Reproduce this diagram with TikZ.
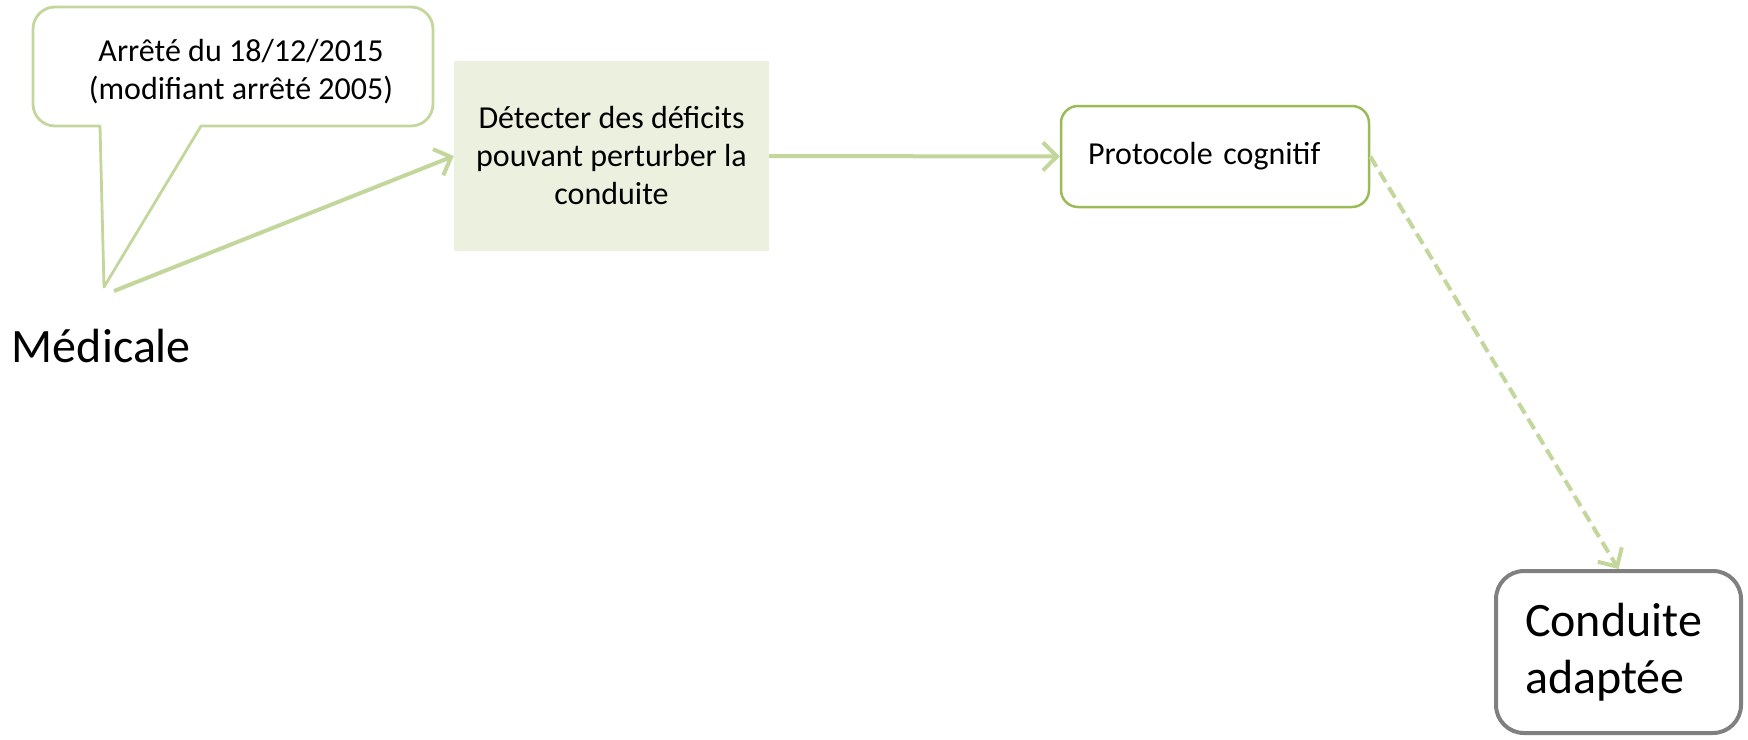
\documentclass[tikz,border=0pt]{standalone}
\usepackage{fontspec}
\setmainfont{Carlito}
\usetikzlibrary{arrows.meta}

\definecolor{lgreen}{RGB}{195,214,155}
\definecolor{mgreen}{RGB}{155,187,89}
\definecolor{boxfill}{RGB}{235,241,222}
\definecolor{dgray}{RGB}{128,128,128}

\tikzset{
  small/.style={font=\fontsize{32}{38}\selectfont},
  big/.style={font=\fontsize{48}{57}\selectfont},
  link/.style={color=lgreen, line width=4pt, -{Straight Barb[length=14pt,width=28pt,line width=4pt]}},
}

\begin{document}
\begin{tikzpicture}[x=1pt,y=1pt,yscale=-1,xscale=1]
\useasboundingbox (0,0) rectangle (1748,739);

%Shape: Callout [id:callout]
\draw [color=lgreen, line width=2.8pt, line join=round]  (201,126) [rounded corners=22] -- (433,126) -- (433,7) -- (33,7) -- (33,126) [sharp corners] -- (100,126) -- (104,287) -- cycle ;
% Text Node
\node (arrete) at (241,72) [inner sep=0.75pt, small, align=center] {Arrêté du 18/12/2015\\(modifiant arrêté 2005)};
\coordinate (tail) at (114,291);

% Text Node
\node (med) at (11,346) [anchor=west, inner sep=0.75pt, big] {Médicale};

%Shape: Rectangle [id:detect]
\node (detect) at (611.5,156) [fill=boxfill, minimum width=315pt, minimum height=190pt, inner sep=0pt, small, align=center] {Détecter des déficits\\pouvant perturber la\\conduite};

%Rounded Rect [id:proto]
\node (proto) at (1215,156.5) [draw=mgreen, line width=2.5pt, rounded corners=17pt, minimum width=308pt, minimum height=101pt, text width=254pt, inner xsep=26pt, align=left, small] {Protocole cognitif};

%Rounded Rect [id:cond]
\node (cond) at (1618.5,652) [draw=dgray, line width=4pt, rounded corners=28pt, minimum width=245pt, minimum height=162pt, text width=187pt, inner xsep=29pt, align=left, big] {Conduite\\adaptée};

%Straight Lines
\draw [link]  (tail) -- (detect.west) ;
%Straight Lines
\draw [link]  (detect.east) -- (proto.west) ;
%Straight Lines
\draw [link, dash pattern={on 12pt off 6pt}]  (proto.east) -- (cond.north) ;

\end{tikzpicture}
\end{document}
